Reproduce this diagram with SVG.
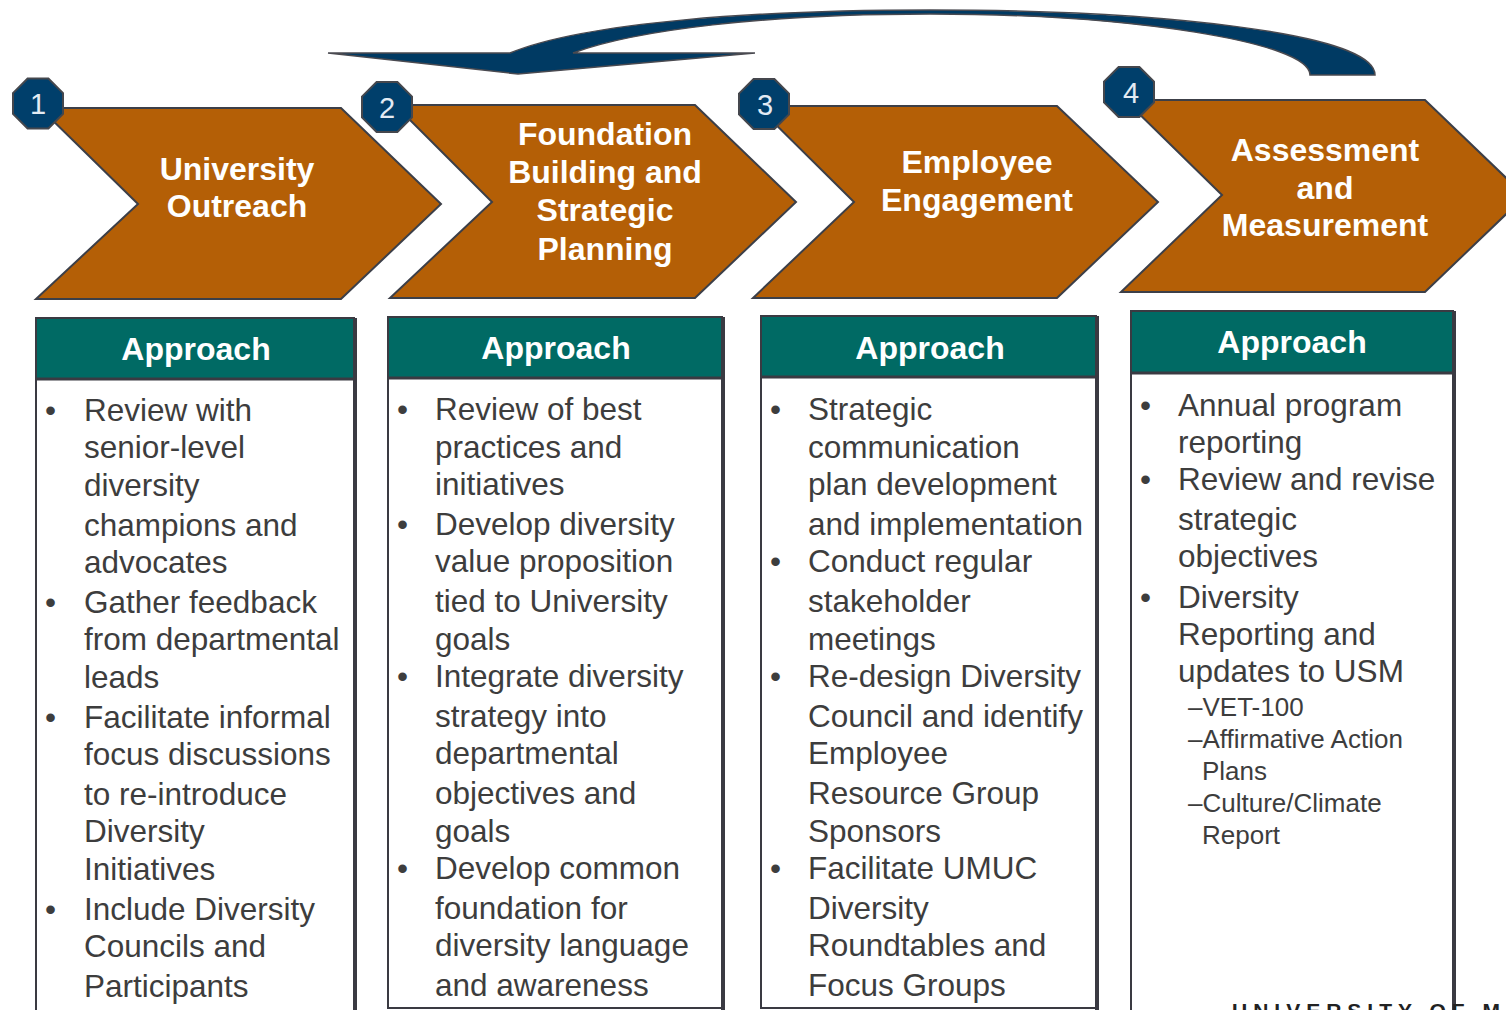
<svg xmlns="http://www.w3.org/2000/svg" width="1506" height="1010" viewBox="0 0 1506 1010">
<defs>
<style>
.chev{fill:#B45F06;stroke:#3c3f48;stroke-width:2}
.badge{fill:#003F6B;stroke:#45474d;stroke-width:2}
.num{font-family:"Liberation Sans",Arial,sans-serif;font-size:29px;fill:#e3ebf3;text-anchor:middle}
.ct{font-family:"Liberation Sans",Arial,sans-serif;font-size:32px;font-weight:bold;fill:#ffffff;text-anchor:middle}
.box{fill:#ffffff;stroke:#3a3a42;stroke-width:2}
.shadow{stroke:#3a3a42;stroke-width:4}
.hdr{fill:#006A64;stroke:#3a3a42;stroke-width:2}
.hdrline{stroke:#3a3a42;stroke-width:3}
.ht{font-family:"Liberation Sans",Arial,sans-serif;font-size:32px;font-weight:bold;fill:#ffffff;text-anchor:middle}
.b{font-family:"Liberation Sans",Arial,sans-serif;font-size:31.5px;fill:#3d3d3d}
.s{font-family:"Liberation Sans",Arial,sans-serif;font-size:26px;fill:#3d3d3d}
.arrow{fill:#003A63;stroke:#4a4a50;stroke-width:1.5}
.foot{font-family:"Liberation Sans",Arial,sans-serif;font-size:21px;font-weight:bold;fill:#222222;letter-spacing:6px}
</style>
<polygon id="oct" points="-10.4,-25 10.4,-25 25,-10.4 25,10.4 10.4,25 -10.4,25 -25,10.4 -25,-10.4"/>
</defs>
<rect width="1506" height="1010" fill="#ffffff"/>

<g id="connectors">
<path class="arrow" d="M328,53 L510,53 C585,22 760,10 930,10 C1150,10 1375,32 1375,75 L1310,75 C1310,42 1130,14 930,14 C765,14 635,30 573,53 L755,53 L518,74 Z"/>
</g>

<g id="step1">
<polygon class="chev" points="40,108 341,108 441,204 341,299 36,299 138,204"/>
<use href="#oct" class="badge" x="38" y="103.5"/>
<text class="num" x="38" y="114">1</text>
<text class="ct" x="237" y="180">University</text>
<text class="ct" x="237" y="217">Outreach</text>
</g>

<g id="step2">
<polygon class="chev" points="395,105 695,105 796,202 695,298 390,298 492,202"/>
<use href="#oct" class="badge" x="387" y="107"/>
<text class="num" x="387" y="117.5">2</text>
<text class="ct" x="605" y="145">Foundation</text>
<text class="ct" x="605" y="183">Building and</text>
<text class="ct" x="605" y="221">Strategic</text>
<text class="ct" x="605" y="260">Planning</text>
</g>

<g id="step3">
<polygon class="chev" points="757,106 1057,106 1158,202 1057,298 753,298 854,202"/>
<use href="#oct" class="badge" x="764" y="104"/>
<text class="num" x="765" y="114.5">3</text>
<text class="ct" x="977" y="173">Employee</text>
<text class="ct" x="977" y="211">Engagement</text>
</g>

<g id="step4">
<polygon class="chev" points="1125,100 1425,100 1525,196 1425,292 1121,292 1222,195"/>
<use href="#oct" class="badge" x="1129" y="92"/>
<text class="num" x="1131" y="102.5">4</text>
<text class="ct" x="1325" y="161">Assessment</text>
<text class="ct" x="1325" y="199">and</text>
<text class="ct" x="1325" y="236">Measurement</text>
</g>

<g id="approach1">
<rect class="box" x="36" y="318" width="318" height="720"/>
<line class="shadow" x1="355" y1="318" x2="355" y2="1040"/>
<rect class="hdr" x="36" y="318" width="318" height="61"/>
<line class="hdrline" x1="36" y1="379" x2="356" y2="379"/>
<text class="ht" x="196" y="360">Approach</text>
<text class="b" x="45" y="421">•</text>
<text class="b" x="84" y="421">Review with</text>
<text class="b" x="84" y="458">senior-level</text>
<text class="b" x="84" y="496">diversity</text>
<text class="b" x="84" y="536">champions and</text>
<text class="b" x="84" y="573">advocates</text>
<text class="b" x="45" y="613">•</text>
<text class="b" x="84" y="613">Gather feedback</text>
<text class="b" x="84" y="650">from departmental</text>
<text class="b" x="84" y="688">leads</text>
<text class="b" x="45" y="728">•</text>
<text class="b" x="84" y="728">Facilitate informal</text>
<text class="b" x="84" y="765">focus discussions</text>
<text class="b" x="84" y="805">to re-introduce</text>
<text class="b" x="84" y="842">Diversity</text>
<text class="b" x="84" y="880">Initiatives</text>
<text class="b" x="45" y="920">•</text>
<text class="b" x="84" y="920">Include Diversity</text>
<text class="b" x="84" y="957">Councils and</text>
<text class="b" x="84" y="997">Participants</text>
</g>

<g id="approach2">
<rect class="box" x="388" y="317" width="334" height="691"/>
<line class="shadow" x1="723" y1="317" x2="723" y2="1010"/>
<rect class="hdr" x="388" y="317" width="334" height="61"/>
<line class="hdrline" x1="388" y1="378" x2="724" y2="378"/>
<text class="ht" x="556" y="359">Approach</text>
<text class="b" x="397" y="420">•</text>
<text class="b" x="435" y="420">Review of best</text>
<text class="b" x="435" y="458">practices and</text>
<text class="b" x="435" y="495">initiatives</text>
<text class="b" x="397" y="535">•</text>
<text class="b" x="435" y="535">Develop diversity</text>
<text class="b" x="435" y="572">value proposition</text>
<text class="b" x="435" y="612">tied to University</text>
<text class="b" x="435" y="650">goals</text>
<text class="b" x="397" y="687">•</text>
<text class="b" x="435" y="687">Integrate diversity</text>
<text class="b" x="435" y="727">strategy into</text>
<text class="b" x="435" y="764">departmental</text>
<text class="b" x="435" y="804">objectives and</text>
<text class="b" x="435" y="842">goals</text>
<text class="b" x="397" y="879">•</text>
<text class="b" x="435" y="879">Develop common</text>
<text class="b" x="435" y="919">foundation for</text>
<text class="b" x="435" y="956">diversity language</text>
<text class="b" x="435" y="996">and awareness</text>
</g>

<g id="approach3">
<rect class="box" x="761" y="316" width="335" height="692"/>
<line class="shadow" x1="1097" y1="316" x2="1097" y2="1010"/>
<rect class="hdr" x="761" y="316" width="335" height="61"/>
<line class="hdrline" x1="761" y1="377" x2="1098" y2="377"/>
<text class="ht" x="930" y="359">Approach</text>
<text class="b" x="770" y="420">•</text>
<text class="b" x="808" y="420">Strategic</text>
<text class="b" x="808" y="458">communication</text>
<text class="b" x="808" y="495">plan development</text>
<text class="b" x="808" y="535">and implementation</text>
<text class="b" x="770" y="572">•</text>
<text class="b" x="808" y="572">Conduct regular</text>
<text class="b" x="808" y="612">stakeholder</text>
<text class="b" x="808" y="650">meetings</text>
<text class="b" x="770" y="687">•</text>
<text class="b" x="808" y="687">Re-design Diversity</text>
<text class="b" x="808" y="727">Council and identify</text>
<text class="b" x="808" y="764">Employee</text>
<text class="b" x="808" y="804">Resource Group</text>
<text class="b" x="808" y="842">Sponsors</text>
<text class="b" x="770" y="879">•</text>
<text class="b" x="808" y="879">Facilitate UMUC</text>
<text class="b" x="808" y="919">Diversity</text>
<text class="b" x="808" y="956">Roundtables and</text>
<text class="b" x="808" y="996">Focus Groups</text>
</g>

<g id="approach4">
<rect class="box" x="1131" y="311" width="322" height="729"/>
<line class="shadow" x1="1454" y1="311" x2="1454" y2="1040"/>
<rect class="hdr" x="1131" y="311" width="322" height="62"/>
<line class="hdrline" x1="1131" y1="373" x2="1455" y2="373"/>
<text class="ht" x="1292" y="353">Approach</text>
<text class="b" x="1140" y="416">•</text>
<text class="b" x="1178" y="416">Annual program</text>
<text class="b" x="1178" y="453">reporting</text>
<text class="b" x="1140" y="490">•</text>
<text class="b" x="1178" y="490">Review and revise</text>
<text class="b" x="1178" y="530">strategic</text>
<text class="b" x="1178" y="567">objectives</text>
<text class="b" x="1140" y="608">•</text>
<text class="b" x="1178" y="608">Diversity</text>
<text class="b" x="1178" y="645">Reporting and</text>
<text class="b" x="1178" y="682">updates to USM</text>
<text class="s" x="1188" y="716">–VET-100</text>
<text class="s" x="1188" y="748">–Affirmative Action</text>
<text class="s" x="1202" y="780">Plans</text>
<text class="s" x="1188" y="812">–Culture/Climate</text>
<text class="s" x="1202" y="844">Report</text>
</g>

<text class="foot" x="1232" y="1018">UNIVERSITY OF M</text>
</svg>
